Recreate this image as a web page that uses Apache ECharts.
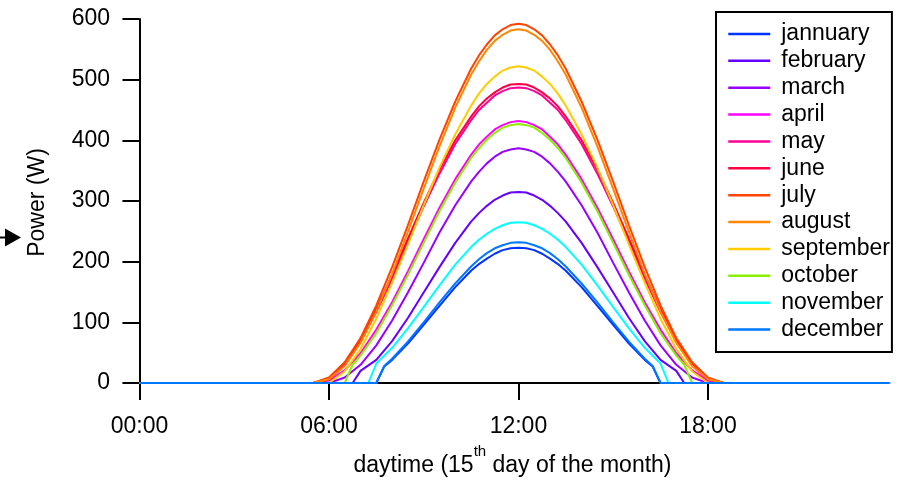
<!DOCTYPE html>
<html>
<head>
<meta charset="utf-8">
<script src="https://cdn.jsdelivr.net/npm/echarts@6/dist/echarts.min.js"></script>
<style>html,body{margin:0;padding:0;background:#fff}#c{width:908px;height:482px}</style>
</head>
<body>
<div id="c"></div>
<script>
// ---- data (hour of day, power in W) ----
const months = ['jannuary','february','march','april','may','june','july','august','september','october','november','december'];
const xTickValues = [0, 6, 12, 18];
const xTickLabels = ['00:00', '06:00', '12:00', '18:00'];
const yTickValues = [0, 100, 200, 300, 400, 500, 600];

const jan = [[0,0],[7.5,0],[7.75,27],[8,38],[8.5,65],[9,96],[9.5,127],[10,158],[10.5,185],[10.75,196],[11,205],[11.25,213],[11.5,219],[11.75,222],[12,223],[12.25,222],[12.5,219],[12.75,213],[13,205],[13.25,196],[13.5,185],[14,158],[14.5,127],[15,96],[15.5,65],[16,38],[16.25,27],[16.5,0],[23.75,0]];
const feb = [[0,0],[6.75,0],[7,20],[7.5,38],[8,69],[8.5,107],[9,149],[9.5,191],[10,231],[10.5,266],[10.75,280],[11,292],[11.25,302],[11.5,309],[11.75,314],[12,315],[12.25,314],[12.5,309],[12.75,302],[13,292],[13.25,280],[13.5,266],[14,231],[14.5,191],[15,149],[15.5,107],[16,69],[16.5,38],[17,20],[17.25,0],[23.75,0]];
const mar = [[0,0],[6,0],[6.5,9],[7,30],[7.5,62],[8,103],[8.5,149],[9,198],[9.5,248],[10,293],[10.5,332],[10.75,348],[11,362],[11.25,373],[11.5,381],[11.75,385],[12,387],[12.25,385],[12.5,381],[12.75,373],[13,362],[13.25,348],[13.5,332],[14,293],[14.5,248],[15,198],[15.5,149],[16,103],[16.5,62],[17,30],[17.5,9],[18,0],[23.75,0]];
const apr = [[0,0],[5.5,0],[6,4],[6.5,21],[7,49],[7.5,88],[8,133],[8.5,184],[9,237],[9.5,289],[10,336],[10.5,376],[10.75,393],[11,406],[11.25,418],[11.5,425],[11.75,430],[12,432],[12.25,430],[12.5,425],[12.75,418],[13,406],[13.25,393],[13.5,376],[14,336],[14.5,289],[15,237],[15.5,184],[16,133],[16.5,88],[17,49],[17.5,21],[18,4],[18.5,0],[23.75,0]];
const may = [[0,0],[5.5,0],[6,5],[6.5,29],[7,68],[7.5,117],[8,172],[8.5,232],[9,291],[9.5,345],[10,394],[10.5,433],[10.75,450],[11,462],[11.25,474],[11.5,481],[11.75,486],[12,487],[12.25,486],[12.5,481],[12.75,474],[13,462],[13.25,450],[13.5,433],[14,394],[14.5,345],[15,291],[15.5,232],[16,172],[16.5,117],[17,68],[17.5,29],[18,5],[18.5,0],[23.75,0]];
const jun = [[0,0],[5.5,0],[6,7],[6.5,33],[7,72],[7.5,122],[8,178],[8.5,238],[9,297],[9.5,352],[10,400],[10.5,439],[10.75,456],[11,469],[11.25,479],[11.5,487],[11.75,492],[12,493],[12.25,492],[12.5,487],[12.75,479],[13,469],[13.25,456],[13.5,439],[14,400],[14.5,352],[15,297],[15.5,238],[16,178],[16.5,122],[17,72],[17.5,33],[18,7],[18.5,0],[23.75,0]];
const jul = [[0,0],[5.5,0],[6,9],[6.5,34],[7,74],[7.5,128],[8,191],[8.5,260],[9,332],[9.5,401],[10,464],[10.5,518],[10.75,540],[11,558],[11.25,573],[11.5,583],[11.75,590],[12,592],[12.25,590],[12.5,583],[12.75,573],[13,558],[13.25,540],[13.5,518],[14,464],[14.5,401],[15,332],[15.5,260],[16,191],[16.5,128],[17,74],[17.5,34],[18,9],[18.5,0],[23.75,0]];
const aug = [[0,0],[5.5,0],[6,6],[6.5,28],[7,66],[7.5,118],[8,180],[8.5,249],[9,320],[9.5,390],[10,454],[10.5,508],[10.75,530],[11,549],[11.25,564],[11.5,574],[11.75,581],[12,583],[12.25,581],[12.5,574],[12.75,564],[13,549],[13.25,530],[13.5,508],[14,454],[14.5,390],[15,320],[15.5,249],[16,180],[16.5,118],[17,66],[17.5,28],[18,6],[18.5,0],[23.75,0]];
const sep = [[0,0],[6,0],[6.5,19],[7,56],[7.5,106],[8,165],[8.5,228],[9,293],[9.5,355],[10,410],[10.5,457],[10.75,477],[11,493],[11.25,505],[11.5,515],[11.75,520],[12,522],[12.25,520],[12.5,515],[12.75,505],[13,493],[13.25,477],[13.5,457],[14,410],[14.5,355],[15,293],[15.5,228],[16,165],[16.5,106],[17,56],[17.5,19],[18,0],[23.75,0]];
const oct = [[0,0],[6.5,0],[6.75,30],[7,45],[7.5,82],[8,128],[8.5,178],[9,231],[9.5,283],[10,330],[10.5,371],[10.75,387],[11,401],[11.25,412],[11.5,421],[11.75,425],[12,427],[12.25,425],[12.5,421],[12.75,412],[13,401],[13.25,387],[13.5,371],[14,330],[14.5,283],[15,231],[15.5,178],[16,128],[16.5,82],[17,45],[17.25,30],[17.5,0],[23.75,0]];
const nov = [[0,0],[7.25,0],[7.5,32],[8,58],[8.5,90],[9,125],[9.5,161],[10,195],[10.5,224],[10.75,236],[11,246],[11.25,254],[11.5,260],[11.75,264],[12,265],[12.25,264],[12.5,260],[12.75,254],[13,246],[13.25,236],[13.5,224],[14,195],[14.5,161],[15,125],[15.5,90],[16,58],[16.5,32],[16.75,0],[23.75,0]];
const dec = [[0,0],[7.5,0],[7.75,28],[8,40],[8.5,68],[9,100],[9.5,133],[10,164],[10.5,192],[10.75,204],[11,214],[11.25,222],[11.5,227],[11.75,231],[12,232],[12.25,231],[12.5,227],[12.75,222],[13,214],[13.25,204],[13.5,192],[14,164],[14.5,133],[15,100],[15.5,68],[16,40],[16.25,28],[16.5,0],[23.75,0]];

const monthData = [jan, feb, mar, apr, may, jun, jul, aug, sep, oct, nov, dec];

// ---- styles ----
const palette = ['#0033ff','#6600ff','#9a00ff','#ff00ff','#ff0099','#ff0044','#ff4400','#ff8800','#ffcc00','#88f000','#00ffff','#0077ff'];
const FONT = "'Liberation Sans', Arial, sans-serif";

const chart = echarts.init(document.getElementById('c'), null, {renderer: 'canvas'});
chart.setOption({
  animation: false,
  backgroundColor: '#fff',
  textStyle: {fontFamily: FONT, color: '#000'},
  grid: {left: 135.5, right: 18.5, top: 19, bottom: 96, containLabel: false},
  xAxis: {
    type: 'value', min: -0.125, max: 23.75,
    splitLine: {show: false},
    axisLine: {show: true, lineStyle: {color: '#000', width: 2}},
    axisTick: {show: true, customValues: xTickValues, length: 17, lineStyle: {color: '#000', width: 2}},
    axisLabel: {customValues: xTickValues, margin: 29, fontSize: 23, color: '#000', fontFamily: FONT,
      formatter: function (v) { const i = xTickValues.indexOf(v); return i >= 0 ? xTickLabels[i] : ''; }},
    name: '{n|daytime (15}{s|th}{n| day of the month)}',
    nameLocation: 'middle', nameGap: 58,
    nameTextStyle: {rich: {
      n: {fontSize: 23, color: '#000', fontFamily: FONT, verticalAlign: 'bottom', padding: [10, 0, 0, 0]},
      s: {fontSize: 15, color: '#000', fontFamily: FONT, verticalAlign: 'top'}
    }}
  },
  yAxis: {
    type: 'value', min: -5, max: 600,
    splitLine: {show: false},
    axisLine: {show: true, lineStyle: {color: '#000', width: 2}},
    axisTick: {show: true, customValues: yTickValues, length: 17, lineStyle: {color: '#000', width: 2}},
    axisLabel: {customValues: yTickValues, margin: 25.5, fontSize: 23, color: '#000', fontFamily: FONT},
    name: 'Power (W)', nameLocation: 'middle', nameRotate: 90, nameGap: 86,
    nameTextStyle: {fontSize: 23, color: '#000', fontFamily: FONT}
  },
  legend: {
    show: true, orient: 'vertical', left: 716, top: 12,
    padding: [10.5, 2, 11, 11],
    itemWidth: 42, itemHeight: 23, itemGap: 3.87,
    backgroundColor: '#fff', borderColor: '#000', borderWidth: 2, borderRadius: 0,
    selectedMode: false,
    itemStyle: {opacity: 0},
    lineStyle: {width: 2.5},
    textStyle: {fontSize: 23, color: '#000', fontFamily: FONT, lineHeight: 23, padding: [0, 0, 0, 6]},
    data: months
  },
  graphic: [
    {type: 'line', shape: {x1: 0, y1: 237.5, x2: 6, y2: 237.5}, style: {stroke: '#000', lineWidth: 2}},
    {type: 'polygon', shape: {points: [[5, 228.5], [21, 237.5], [5, 246.5]]}, style: {fill: '#000'}}
  ],
  series: months.map(function (m, i) {
    return {
      name: m, type: 'line', data: monthData[i], symbol: 'none', silent: true,
      lineStyle: {width: 2, color: palette[i]}, itemStyle: {color: palette[i]}
    };
  })
});
</script>
</body>
</html>
